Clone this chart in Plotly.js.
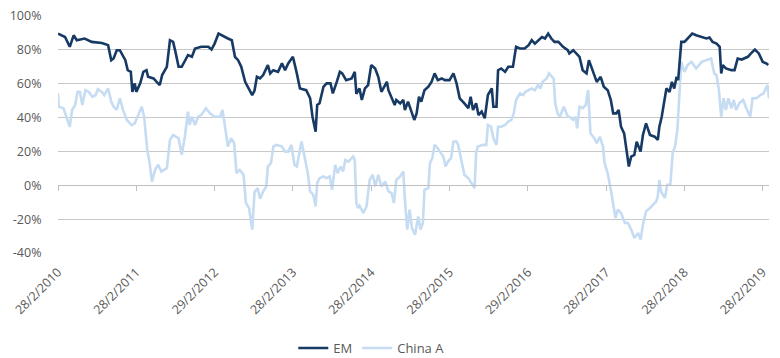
<!DOCTYPE html>
<html><head><meta charset="utf-8">
<script src="https://cdn.plot.ly/plotly-3.0.1.min.js"></script>
<style>html,body{margin:0;padding:0;background:#fff}#chart{width:780px;height:358px}</style>
</head><body><div id="chart"></div><script>
// x = years elapsed since 28/2/2010
const tickLabels = ["28/2/2010","28/2/2011","29/2/2012","28/2/2013","28/2/2014","28/2/2015","29/2/2016","28/2/2017","28/2/2018","28/2/2019"];
const tickYears = [0,1,2,3,4,5,6,7,8,9];
const yTicks = [-40,-20,0,20,40,60,80,100];
const yTickLabels = ["-40%","-20%","0%","20%","40%","60%","80%","100%"];

const emX = [0,0.09,0.15,0.20,0.24,0.34,0.43,0.56,0.64,0.68,0.71,0.75,0.79,0.86,0.89,0.93,0.95,0.98,1.00,1.05,1.09,1.13,1.15,1.22,1.26,1.30,1.33,1.39,1.43,1.47,1.50,1.54,1.58,1.62,1.66,1.71,1.75,1.83,1.92,1.96,2.00,2.05,2.11,2.17,2.22,2.26,2.30,2.34,2.39,2.44,2.48,2.51,2.54,2.58,2.62,2.68,2.71,2.75,2.81,2.86,2.90,2.94,3.00,3.05,3.09,3.17,3.22,3.25,3.29,3.31,3.34,3.39,3.43,3.48,3.51,3.56,3.60,3.63,3.68,3.75,3.79,3.81,3.85,3.88,3.92,3.96,4.00,4.05,4.09,4.13,4.20,4.22,4.26,4.30,4.32,4.37,4.41,4.43,4.47,4.51,4.55,4.58,4.61,4.64,4.68,4.73,4.77,4.81,4.85,4.90,4.94,5.00,5.05,5.09,5.13,5.19,5.24,5.27,5.30,5.34,5.37,5.41,5.45,5.49,5.54,5.56,5.60,5.62,5.66,5.71,5.75,5.81,5.85,5.90,5.96,6.01,6.05,6.09,6.13,6.18,6.22,6.26,6.30,6.34,6.39,6.45,6.51,6.53,6.58,6.62,6.66,6.70,6.75,6.78,6.83,6.88,6.93,6.97,7.02,7.06,7.09,7.13,7.16,7.19,7.23,7.26,7.29,7.32,7.36,7.39,7.44,7.47,7.51,7.56,7.62,7.66,7.68,7.71,7.75,7.77,7.81,7.84,7.87,7.90,7.92,7.94,7.96,8.00,8.04,8.10,8.15,8.22,8.28,8.32,8.36,8.41,8.45,8.47,8.49,8.53,8.60,8.64,8.68,8.73,8.77,8.81,8.85,8.90,8.95,9.00,9.05,9.07];
const emY = [89.6,87.6,81.8,88.6,85.7,86.7,84.7,84.1,82.8,73.9,74.9,79.8,79.8,73.9,68,67,55.2,60.2,55.2,60.2,67,68,64.1,63.1,61.1,59.2,65.1,70,85.7,84.7,78.8,70,70,73.9,76.9,75.9,80.8,81.8,81.8,80.2,83.7,89.6,88,86.7,85.7,75.9,73.9,70,61.1,56.2,53.3,56,64.1,63.1,65.1,71,66.1,68,67,72,68,72,75.9,66.1,57.2,56.2,51.4,40.5,31.7,47.4,48.4,58.2,60.2,60.2,54.3,61.1,67,66.1,62.1,63.1,67,54,57.2,50.4,57.2,59.2,71,69,64.1,55.2,61.1,56.2,51.4,47.4,50.4,48.4,50.4,44.5,49.4,44.5,38.6,42.5,52.3,49.4,56.2,58.2,61.1,66.1,62.1,63.1,62.1,62.1,66.1,60.2,51.4,48.4,45.5,52.3,44.5,48.4,41.5,43.5,39.6,53.3,57.2,46.4,46.4,68,69,67,70,70,81.8,80.8,80.8,82.8,85.7,83.7,85.7,87.6,86.7,89.6,86.7,84.7,84.7,81.8,79.8,77.9,79.8,77.9,75.9,68,66.1,73.9,67,61.1,64.1,58.2,56.2,50.4,42.5,42.5,44.5,34.6,30.7,20.9,11.1,17,18,25.8,19.9,29.7,36.6,29.7,28.7,26.8,34.6,40.5,50.4,57.2,55.2,61.1,57.2,64.1,62.1,73.9,84.7,84.7,86.7,89.6,88.6,87.6,86.7,87.3,84.7,83.7,81.8,66.1,71,69,68,68,74.9,74.3,74.9,75.9,77.9,80.2,77.9,72.9,71.9,71];

const chinaX = [0,0.01,0.07,0.11,0.15,0.18,0.22,0.25,0.28,0.31,0.35,0.39,0.44,0.48,0.51,0.56,0.59,0.64,0.68,0.71,0.75,0.79,0.83,0.88,0.94,0.98,1.02,1.07,1.10,1.14,1.17,1.20,1.24,1.28,1.32,1.39,1.43,1.47,1.54,1.58,1.62,1.66,1.68,1.71,1.75,1.79,1.83,1.89,1.94,2.00,2.07,2.10,2.13,2.17,2.21,2.25,2.28,2.32,2.37,2.40,2.44,2.48,2.51,2.55,2.58,2.62,2.66,2.68,2.72,2.75,2.79,2.86,2.90,2.94,2.98,3.02,3.05,3.08,3.11,3.14,3.19,3.22,3.26,3.29,3.31,3.34,3.39,3.43,3.47,3.50,3.54,3.57,3.61,3.64,3.67,3.71,3.77,3.79,3.81,3.83,3.85,3.90,3.94,3.98,4.02,4.05,4.09,4.13,4.18,4.22,4.26,4.29,4.32,4.37,4.41,4.43,4.46,4.49,4.52,4.56,4.60,4.63,4.66,4.68,4.73,4.75,4.78,4.81,4.85,4.89,4.92,4.95,4.98,5.02,5.05,5.09,5.11,5.15,5.17,5.19,5.24,5.28,5.32,5.34,5.36,5.43,5.47,5.49,5.53,5.56,5.60,5.62,5.66,5.71,5.75,5.79,5.82,5.85,5.90,5.94,5.97,6.01,6.05,6.09,6.13,6.16,6.19,6.24,6.27,6.31,6.33,6.35,6.38,6.41,6.46,6.51,6.53,6.58,6.61,6.63,6.66,6.70,6.74,6.77,6.80,6.85,6.88,6.92,6.96,6.98,7.02,7.06,7.09,7.12,7.15,7.19,7.24,7.28,7.32,7.36,7.41,7.44,7.47,7.51,7.56,7.60,7.64,7.66,7.68,7.70,7.75,7.78,7.82,7.85,7.88,7.91,7.94,7.96,8.00,8.04,8.09,8.15,8.22,8.30,8.34,8.38,8.41,8.44,8.47,8.50,8.53,8.56,8.60,8.63,8.66,8.70,8.75,8.79,8.84,8.87,8.92,8.97,9.01,9.06,9.08];
const chinaY = [54.3,46.4,45.5,40.5,34.6,44.5,47.4,55.2,55.2,47.4,56.2,55.2,52.3,53.3,56.7,55.2,53.3,57.2,49.4,46.4,44.5,51.4,44.5,38.6,35.6,36.6,40.5,46.4,40.5,20.9,13.1,2.2,9.1,12.1,8.1,10.1,26.8,29.7,27.8,18,28.7,43.5,35.6,40.5,35.6,40.5,41.5,45.5,42.5,40.5,40.5,44.5,35.6,22.9,27.8,24.9,7.2,9.1,6.2,-10.5,-13.4,-26.2,-4,-1.7,-8,-3.6,-0.7,11.1,13.1,22.9,23.9,22.9,19.9,19.9,23.9,12.1,11.1,19,25.8,19,7.2,-3.6,-5.6,-12.5,1.3,4.2,5.2,4.2,5.2,-2.7,12.1,7.2,11.1,8.1,15,14,17,15,-10.5,-13.4,-12,-16.4,-12.5,3.2,6.2,-0.7,6.2,-0.7,2.2,-3.6,-4.6,-10.5,3.2,5.2,8.1,-8.5,-26.2,-14.4,-25.2,-29.2,-18.4,-26.2,-22.3,-2.7,-1.7,13.1,16,23.9,21.9,19,17,11.1,14,16,25.8,25.8,23.9,15,11.1,6.2,4.2,1.3,-1.7,19,22.9,23.9,23.9,35.6,34.6,27.8,23.9,34.6,34.6,35.6,37.6,38.6,42.5,50.4,54.3,53.3,55.2,56.2,57.2,56.2,59.2,57.2,61.1,63.1,66.1,64.1,63.1,48.4,42.5,40.5,46.4,40.5,40.5,38.6,40.5,33.7,46.4,45.5,47.4,56.2,30.7,27.8,24.9,28.7,22.9,13.1,7.2,-2.7,-12.5,-19.3,-14.4,-16.4,-22.3,-22.3,-26.2,-31.1,-28.2,-32.1,-23.3,-15.4,-13.4,-11.5,-9.5,-6.6,3.2,-3.6,-7.5,0.3,0.3,19,22.9,32.7,54.3,72.9,67,71,72.9,69,72.9,74.3,74.9,66.1,65.1,56.2,40.5,51.4,44.5,51.4,45.5,50.4,44.5,48.4,50.4,45.5,40.5,51.4,51.4,53.3,54.3,59.2,51.4];

const fontFam = "Open Sans, sans-serif";
const txtColor = "#595959";

const traces = [
  {name:"EM", x:emX, y:emY, type:"scatter", mode:"lines", xaxis:"x2", yaxis:"y",
   line:{color:"#173A64", width:2.6}},
  {name:"China A", x:chinaX, y:chinaY, type:"scatter", mode:"lines", xaxis:"x", yaxis:"y",
   line:{color:"#C5DCF2", width:2.6}}
];

const layout = {
  width:780, height:358,
  margin:{l:58, r:11, t:16, b:105, autoexpand:false},
  paper_bgcolor:"#ffffff", plot_bgcolor:"#ffffff",
  font:{family:fontFam, size:12, color:txtColor},
  showlegend:true,
  legend:{orientation:"h", xref:"container", yref:"container", x:0.476, xanchor:"center",
          y:0.028, yanchor:"middle",
          font:{family:fontFam, size:13, color:txtColor}, itemwidth:30, traceorder:"normal"},
  xaxis:{range:[0,9.08], tickmode:"array", tickvals:tickYears, ticktext:tickLabels,
         tickangle:-45, showgrid:false, zeroline:false, showline:false, automargin:false,
         ticks:"outside", ticklen:6, tickcolor:"rgba(0,0,0,0)",
         tickfont:{family:fontFam, size:12.5, color:txtColor}},
  xaxis2:{matches:"x", overlaying:"x", anchor:"free", position:(0-(-40))/140, side:"bottom",
          tickmode:"array", tickvals:tickYears, showticklabels:false, automargin:false,
          showgrid:false, zeroline:false, showline:true, linecolor:"#bfbfbf", linewidth:1,
          ticks:"outside", ticklen:5, tickcolor:"#bfbfbf", tickwidth:1},
  yaxis:{range:[-40,100], tickmode:"array", tickvals:yTicks, ticktext:yTickLabels,
         showgrid:true, gridcolor:"#c8c8c8", gridwidth:1, zeroline:false, showline:false,
         automargin:false,
         ticks:"outside", ticklen:13, tickcolor:"rgba(0,0,0,0)",
         tickfont:{family:fontFam, size:12.5, color:txtColor}}
};

Plotly.newPlot("chart", traces, layout, {staticPlot:true, displayModeBar:false});
</script></body></html>
